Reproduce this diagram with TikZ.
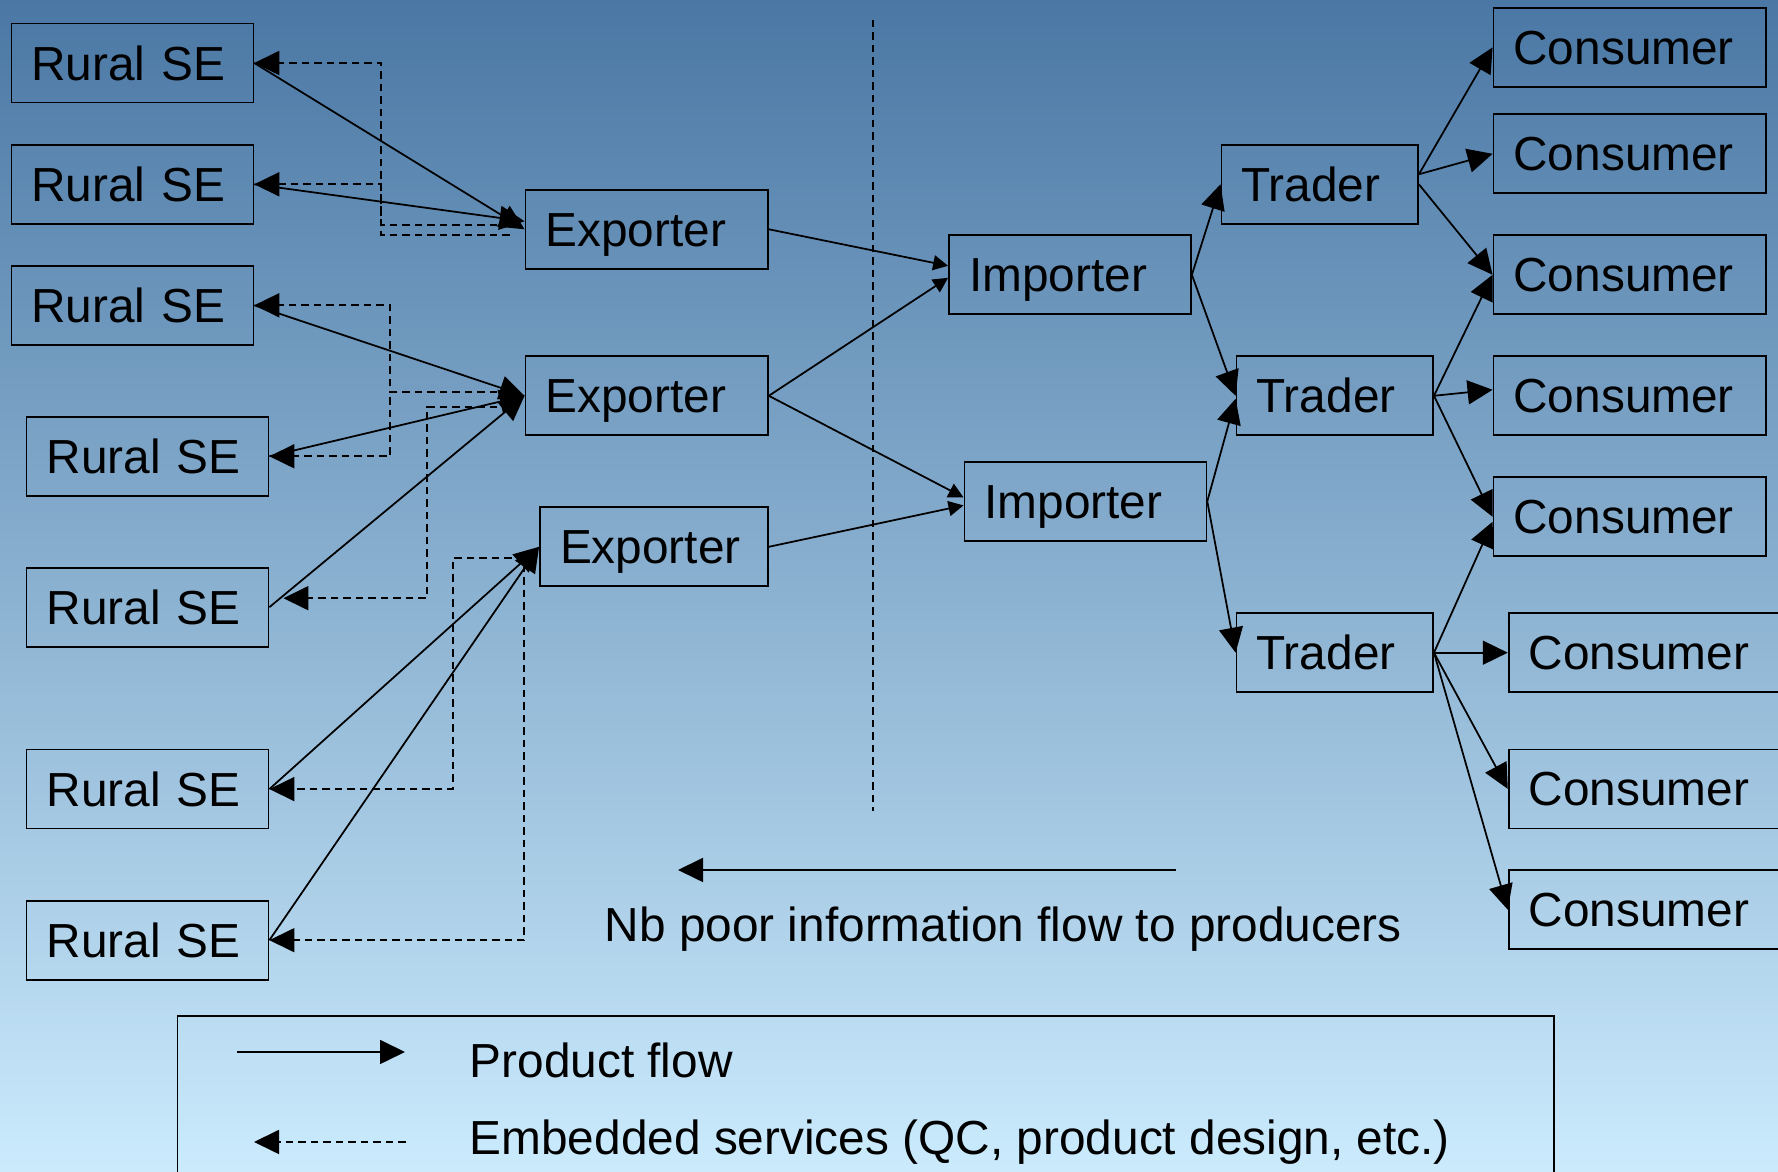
\documentclass[tikz,border=0pt]{standalone}
\usepackage{fontspec}
\setmainfont{Liberation Sans}
\usetikzlibrary{arrows.meta}
\definecolor{bgtop}{RGB}{74,119,164}
\definecolor{bgmid}{RGB}{160,193,221}
\definecolor{bgbot}{RGB}{203,235,253}

\begin{document}
\begin{tikzpicture}[x=0.1mm, y=-0.1mm, font=\fontsize{13.6}{16}\selectfont]
\tikzset{agent/.style = {draw, line width=0.5pt, minimum height=7.9mm, inner xsep=2mm, inner ysep=0pt, text height=9.7pt, text depth=0pt, align=left, text width=#1}}
\tikzset{product/.style = {line width=0.5pt, -{Triangle[length=2.5mm, width=2.4mm]}}}
\tikzset{thin product/.style = {line width=0.5pt, -{Triangle[length=1.5mm, width=1.5mm]}}}
\tikzset{service/.style = {line width=0.5pt, dash pattern=on 0.75mm off 0.5mm, -{Triangle[length=2.5mm, width=2.4mm]}}}

% background
\shade[top color=bgtop, middle color=bgmid, bottom color=bgbot] (0,0) rectangle (1778,1172);
\useasboundingbox (0,0) rectangle (1778,1172);

% producers
\node[agent=20.2mm](rse1) at (132.4, 63.0) {Rural SE};
\node[agent=20.2mm](rse2) at (132.4, 184.3) {Rural SE};
\node[agent=20.2mm](rse3) at (132.4, 305.3) {Rural SE};
\node[agent=20.2mm](rse4) at (147.5, 456.3) {Rural SE};
\node[agent=20.2mm](rse5) at (147.5, 607.2) {Rural SE};
\node[agent=20.2mm](rse6) at (147.5, 789.1) {Rural SE};
\node[agent=20.2mm](rse7) at (147.5, 940.2) {Rural SE};

% exporters and importers
\node[agent=20.25mm](exp1) at (646.7, 229.3) {Exporter};
\node[agent=20.25mm](exp2) at (646.7, 395.8) {Exporter};
\node[agent=18.8mm](exp3) at (654.0, 546.8) {Exporter};
\node[agent=20.2mm](imp1) at (1070.0, 274.8) {Importer};
\node[agent=20.2mm](imp2) at (1085.4, 501.4) {Importer};

% traders and consumers
\node[agent=15.66mm](tr1) at (1319.7, 184.3) {Trader};
\node[agent=15.66mm](tr2) at (1334.8, 395.8) {Trader};
\node[agent=15.66mm](tr3) at (1334.8, 652.7) {Trader};
\node[agent=23.27mm](con1) at (1629.8, 47.4) {Consumer};
\node[agent=23.27mm](con2) at (1629.8, 153.8) {Consumer};
\node[agent=23.27mm](con3) at (1629.8, 274.8) {Consumer};
\node[agent=23.27mm](con4) at (1629.8, 395.8) {Consumer};
\node[agent=23.27mm](con5) at (1629.8, 516.8) {Consumer};
\node[agent=23.27mm](con6) at (1645.0, 652.7) {Consumer};
\node[agent=23.27mm](con7) at (1645.0, 788.9) {Consumer};
\node[agent=23.27mm](con8) at (1645.0, 909.7) {Consumer};

% product flow
\draw[product] (rse1.east) -- (exp1.west);
\draw[product] (rse2.east) -- ([yshift=0.8mm]exp1.west);
\draw[product] (rse3.east) -- (exp2.west);
\draw[product] (rse4.east) -- (exp2.west);
\draw[product] (rse5.east) -- (exp2.west);
\draw[product] (rse6.east) -- (exp3.west);
\draw[product] (rse7.east) -- (exp3.west);
\draw[thin product] (exp1.east) -- ([yshift=0.9mm]imp1.west);
\draw[thin product] (exp2.east) -- ([yshift=-0.3mm]imp1.west);
\draw[thin product] (exp2.east) -- ([yshift=0.4mm]imp2.west);
\draw[thin product] (exp3.east) -- ([yshift=-0.4mm]imp2.west);
\draw[product] (imp1.east) -- (tr1.west);
\draw[product] (imp1.east) -- (tr2.west);
\draw[product] (imp2.east) -- ([yshift=-0.3mm]tr2.west);
\draw[product] (imp2.east) -- (tr3.west);
\draw[product] ([yshift=1mm]tr1.east) -- (con1.west);
\draw[product] ([yshift=1mm]tr1.east) -- (con2.west);
\draw[product] (tr1.east) -- (con3.west);
\draw[product] (tr2.east) -- (con3.west);
\draw[product] (tr2.east) -- ([yshift=0.6mm]con4.west);
\draw[product] (tr2.east) -- (con5.west);
\draw[product] (tr3.east) -- ([yshift=-0.5mm]con5.west);
\draw[product] (tr3.east) -- (con6.west);
\draw[product] (tr3.east) -- (con7.west);
\draw[product] (tr3.east) -- (con8.west);

% embedded services
\draw[service] ([xshift=-1.5mm,yshift=0.4mm]exp1.west) -- ++(-128.4,0) |- (rse1.east);
\draw[service] ([xshift=-1.5mm,yshift=-0.6mm]exp1.west) -- ++(-128.4,0) |- (rse2.east);
\draw[service] ([xshift=-1.5mm,yshift=0.4mm]exp2.west) -- ++(-119.7,0) |- (rse3.east);
\draw[service] ([xshift=-1.5mm,yshift=0.4mm]exp2.west) -- ++(-119.7,0) |- (rse4.east);
\draw[service] ([xshift=-1.5mm,yshift=-1.1mm]exp2.west) -- ++(-82.4,0) |- ([xshift=1.4mm,yshift=0.9mm]rse5.east);
\draw[service] ([xshift=-1.5mm,yshift=-1.15mm]exp3.west) -- ++(-71.5,0) |- (rse6.east);
\draw[service] ([xshift=-1.5mm,yshift=-1.8mm]exp3.west) |- (rse7.east);

% border line and information flow
\draw[line width=0.5pt, dash pattern=on 0.75mm off 0.5mm] (873,20) -- (873,811);
\coordinate (info start) at (1176,870);
\coordinate (info end) at (678,870);
\draw[product] (info start) -- (info end);
\node[anchor=base west, inner sep=0pt](info) at (604,942) {Nb poor information flow to producers};

% legend
\draw[line width=0.5pt] (177.6,1016) rectangle (1554,1200);
\coordinate (prod a) at (237,1052);
\coordinate (prod b) at (405,1052);
\draw[product] (prod a) -- (prod b);
\coordinate (serv a) at (405.6,1142);
\coordinate (serv b) at (254,1142);
\draw[service] (serv a) -- (serv b);
\node[anchor=base west, inner sep=0pt](prodtext) at (469,1078) {Product flow};
\node[anchor=base west, inner sep=0pt](servtext) at (469,1155) {Embedded services (QC, product design, etc.)};
\end{tikzpicture}
\end{document}
